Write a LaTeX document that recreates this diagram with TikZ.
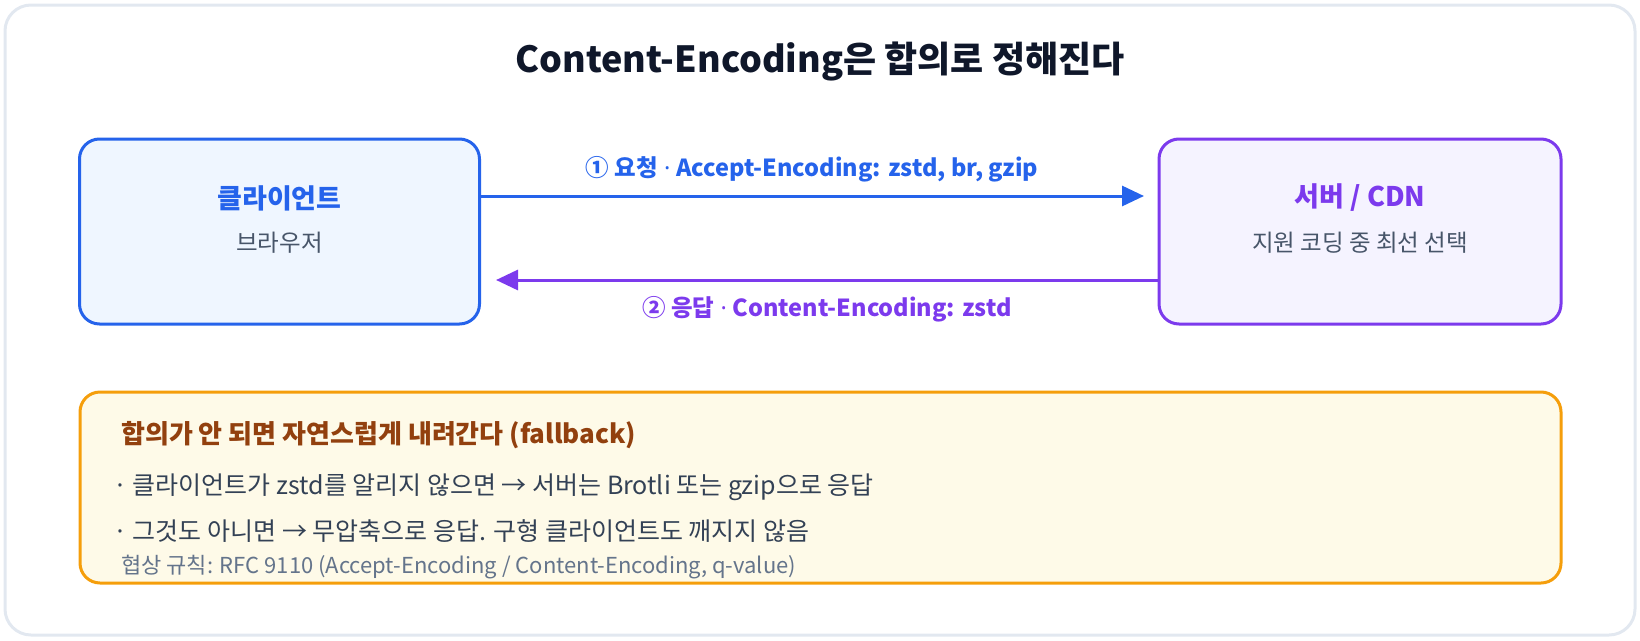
\documentclass[tikz,border=0pt]{standalone}
\usepackage{fontspec}
\setmainfont{Noto Sans CJK KR}
\newfontfamily\latinf{Noto Sans}
\usetikzlibrary{arrows.meta}
\definecolor{frame}{HTML}{E2E8F0}
\definecolor{ink}{HTML}{0F172A}
\definecolor{blueA}{HTML}{2563EB}
\definecolor{blueF}{HTML}{EFF6FF}
\definecolor{purA}{HTML}{7C3AED}
\definecolor{purF}{HTML}{F5F3FF}
\definecolor{orgA}{HTML}{F59E0B}
\definecolor{orgF}{HTML}{FEFAE8}
\definecolor{brownT}{HTML}{92400E}
\definecolor{bodyT}{HTML}{334155}
\definecolor{subT}{HTML}{475569}
\definecolor{noteT}{HTML}{64748B}
\newcommand{\mdot}{\hspace{6pt}{\latinf ·}\hspace{6pt}}
\tikzset{
  box/.style={draw, line width=3pt, rounded corners=20pt, inner sep=0pt},
  conn/.style={line width=3pt, -{Triangle[length=22pt,width=20pt]}},
  lbl/.style={font=\fontsize{23.5}{28}\selectfont\bfseries, inner sep=0pt},
  body/.style={text=bodyT, font=\fontsize{25}{30}\selectfont, inner sep=0pt, anchor=west},
}
\begin{document}
\begin{tikzpicture}[x=1pt,y=-1pt]
\useasboundingbox (0,0) rectangle (1640,640);
\node[draw=frame, line width=3pt, rounded corners=26pt, minimum width=1630pt, minimum height=630pt, inner sep=0pt] (frame) at (820,320) {};
\node[text=ink, font=\fontsize{36}{40}\selectfont\bfseries, inner sep=0pt] (title) at (820,61) {Content-Encoding은 합의로 정해진다};

\node[box, draw=blueA, fill=blueF, minimum width=400pt, minimum height=185pt] (client) at (279.5,231.5) {};
\node[text=blueA, font=\fontsize{27}{30}\selectfont\bfseries, inner sep=0pt] (clientT) at (279.5,198) {클라이언트};
\node[text=subT, font=\fontsize{23.5}{26}\selectfont, inner sep=0pt] (clientS) at (279.5,243) {브라우저};

\node[box, draw=purA, fill=purF, minimum width=402pt, minimum height=185pt] (server) at (1360,231.5) {};
\node[text=purA, font=\fontsize{27}{30}\selectfont\bfseries, inner sep=0pt] (serverT) at (1360,198) {서버 / CDN};
\node[text=subT, font=\fontsize{23.5}{26}\selectfont, inner sep=0pt] (serverS) at (1360,243) {지원 코딩 중 최선 선택};

\coordinate (reqY) at (0,196);
\coordinate (reqEnd) at (1144,196);
\coordinate (resY) at (0,280);
\coordinate (resEnd) at (496,280);
\draw[conn, blueA] (client.east |- reqY) -- (reqEnd);
\draw[conn, purA] (server.west |- resY) -- (resEnd);
\node[lbl, text=blueA] (reqL) at (812,169) {① 요청\mdot Accept-Encoding: zstd, br, gzip};
\node[lbl, text=purA] (resL) at (827,309) {② 응답\mdot Content-Encoding: zstd};

\node[box, draw=orgA, fill=orgF, minimum width=1481pt, minimum height=191pt] (fb) at (820.5,487.5) {};
\node[text=brownT, font=\fontsize{26}{30}\selectfont\bfseries, inner sep=0pt, anchor=west] (fbT) at (121,435) {합의가 안 되면 자연스럽게 내려간다 (fallback)};
\node[body] (fb1) at (113,487) {· 클라이언트가 zstd를 알리지 않으면 → 서버는 Brotli 또는 gzip으로 응답};
\node[body] (fb2) at (113,531) {· 그것도 아니면 → 무압축으로 응답. 구형 클라이언트도 깨지지 않음};
\node[text=noteT, font=\fontsize{22}{26}\selectfont, inner sep=0pt, anchor=west] (fbN) at (121,567) {협상 규칙: RFC 9110 (Accept-Encoding / Content-Encoding, q-value)};
\end{tikzpicture}
\end{document}
